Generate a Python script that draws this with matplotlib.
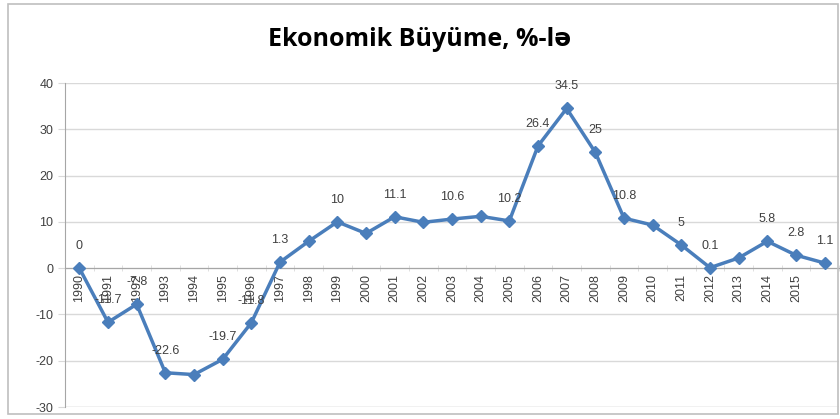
import matplotlib
matplotlib.use("Agg")
import matplotlib.pyplot as plt
from matplotlib.patches import Rectangle

years = list(range(1990, 2017))
growth = [0, -11.7, -7.8, -22.6, -23.0, -19.7, -11.8, 1.3, 5.8, 10, 7.5, 11.1, 9.9,
          10.6, 11.2, 10.2, 26.4, 34.5, 25, 10.8, 9.3, 5, 0.1, 2.2, 5.8, 2.8, 1.1]
# only some points carry a data label in the original
labels = ["0", "-11.7", "-7.8", "-22.6", "", "-19.7", "-11.8", "1.3", "", "10", "", "11.1", "",
          "10.6", "", "10.2", "26.4", "34.5", "25", "10.8", "", "5", "0.1", "", "5.8", "2.8", "1.1"]
tick_labels = [str(y) for y in years[:-1]] + [""]
yticks = [-30, -20, -10, 0, 10, 20, 30, 40]

LINE = "#4a7ebb"
GRID = "#d9d9d9"
TXT = "#404040"

plt.rcParams["font.family"] = ["Liberation Sans", "DejaVu Sans"]
plt.rcParams["axes.unicode_minus"] = False

fig = plt.figure(figsize=(8.4, 4.19), dpi=100)
fig.patches.append(Rectangle((8 / 840, 5 / 419), 830 / 840, 410 / 419, transform=fig.transFigure,
                             fill=False, edgecolor="#bfbfbf", linewidth=1.2))

ax = fig.add_axes([65 / 840, 1 - 407 / 419, 774 / 840, 324 / 419])
x = list(range(len(years)))
ax.plot(x, growth, color=LINE, linewidth=2.5, marker="D", markersize=6.5, zorder=3)

for xi, v, lab in zip(x, growth, labels):
    if lab:
        ax.annotate(lab, (xi, v), xytext=(0, 22), textcoords="offset pixels",
                    ha="center", va="center", fontsize=9, color=TXT)

ax.spines["bottom"].set_position(("data", 0))
ax.spines["bottom"].set_color("#a6a6a6")
ax.spines["left"].set_color("#a6a6a6")
ax.spines["top"].set_visible(False)
ax.spines["right"].set_visible(False)

ax.set_xlim(-0.5, len(years) - 0.5)
ax.set_ylim(-30, 40)
ax.set_yticks(yticks)
ax.yaxis.grid(True, color=GRID, linewidth=1)
ax.set_axisbelow(True)
ax.tick_params(axis="y", labelsize=9, labelcolor=TXT, color=GRID, length=5)

ax.set_xticks(x)
ax.set_xticklabels(tick_labels)
ax.set_xticks([i - 0.5 for i in range(len(years) + 1)], minor=True)
ax.tick_params(axis="x", which="major", length=0, pad=4, labelrotation=90,
               labelsize=9, labelcolor=TXT)
ax.tick_params(axis="x", which="minor", length=5, direction="inout", color=GRID)
ax.axhline(-30, color=GRID, linewidth=1)

fig.text(420 / 840, 1 - 40 / 419, "Ekonomik Büyüme, %-lə", ha="center", va="center",
         fontsize=18, fontweight="bold", family=["Open Sans", "DejaVu Sans"])

fig.savefig("out.png", dpi=100)
